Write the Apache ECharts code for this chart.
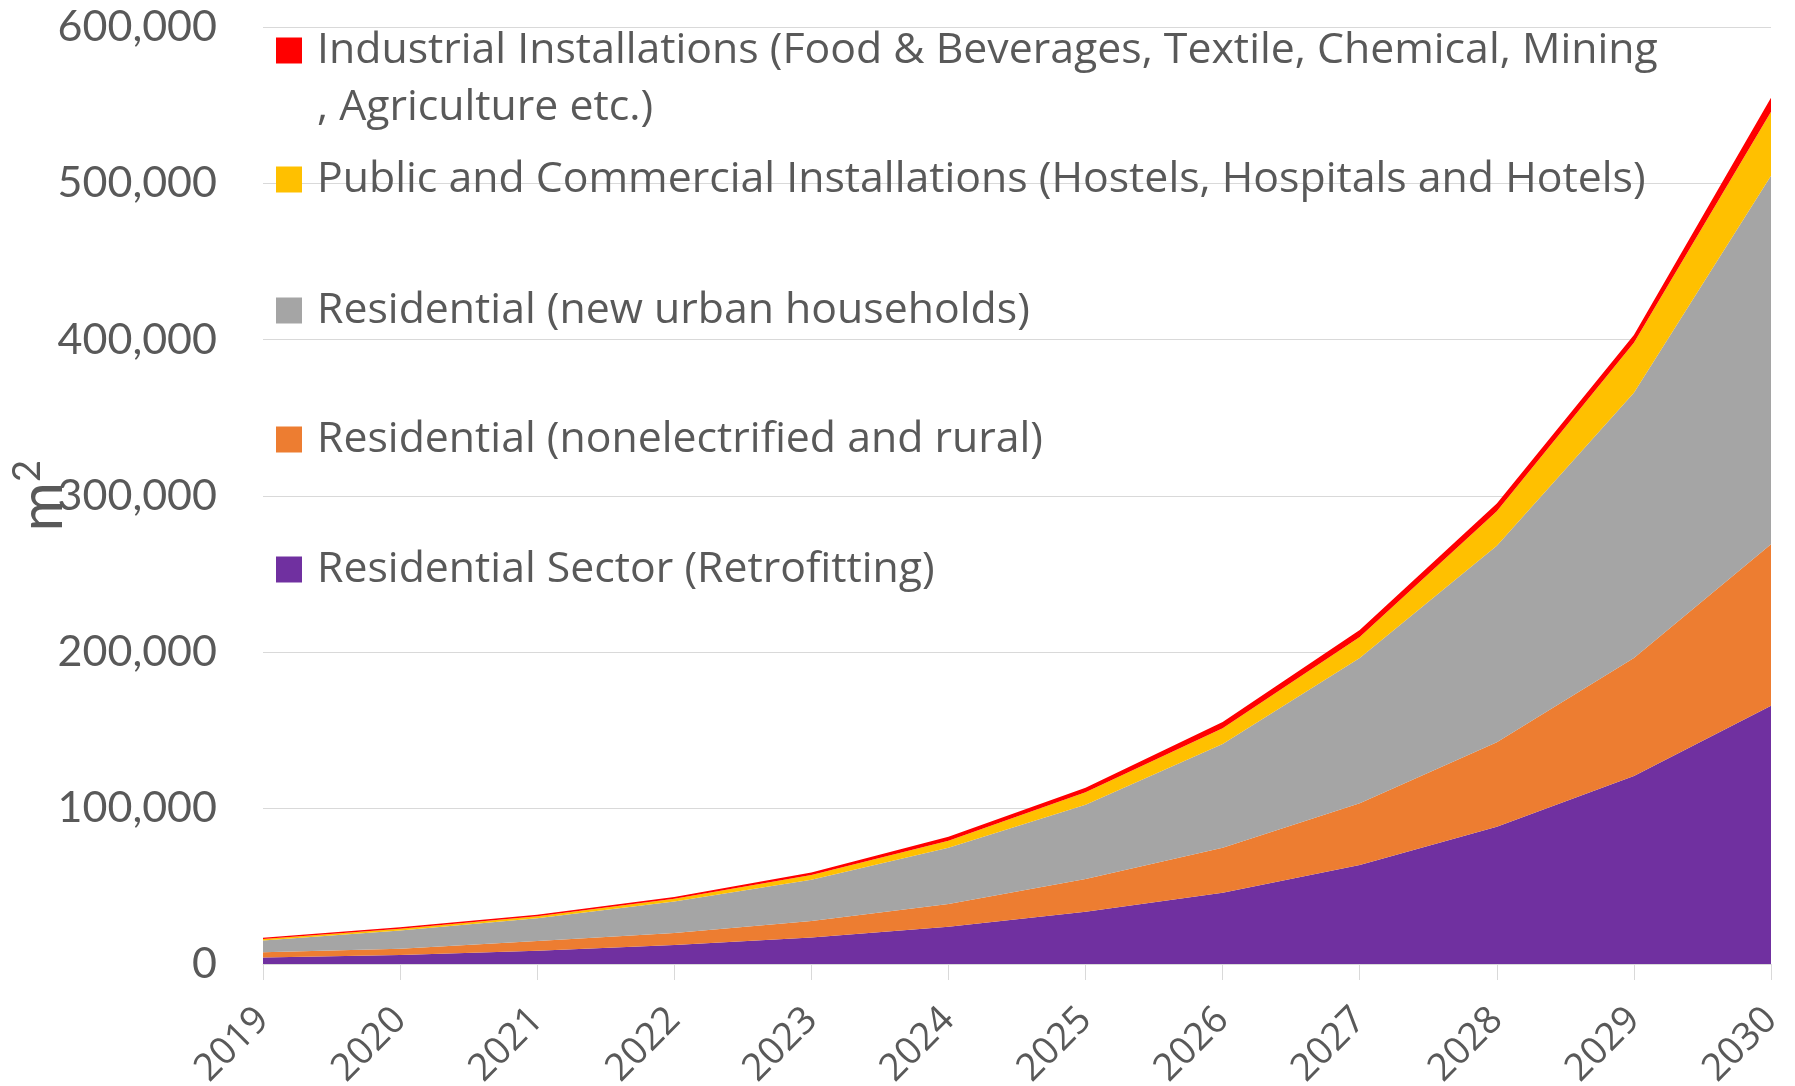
<!DOCTYPE html>
<html>
<head>
<meta charset="utf-8">
<script src="https://cdn.jsdelivr.net/npm/echarts@6/dist/echarts.min.js"></script>
<style>
html,body{margin:0;padding:0;background:#fff;}
#c{width:1795px;height:1086px;}
</style>
</head>
<body>
<div id="c"></div>
<script>
const years = ['2019','2020','2021','2022','2023','2024','2025','2026','2027','2028','2029','2030'];
const retrofitting = [4100, 5800, 8500, 12200, 17000, 23800, 33500, 45600, 63400, 88000, 120500, 165500];
const nonelectrified = [3400, 4000, 6200, 7700, 10500, 14700, 21000, 28900, 39600, 54000, 75500, 103500];
const newUrban = [7500, 11600, 14600, 20100, 26500, 36000, 47500, 66500, 93000, 126000, 170000, 236000];
const publicCommercial = [1000, 1200, 1300, 1800, 3000, 4500, 8000, 10000, 13500, 22000, 32000, 41000];
const industrial = [800, 900, 1000, 1200, 1700, 2500, 3000, 4000, 4500, 5000, 5000, 9000];

const names = {
  ind: 'Industrial Installations (Food & Beverages, Textile, Chemical, Mining',
  ind2: ', Agriculture etc.)',
  pub: 'Public and Commercial Installations (Hostels, Hospitals and Hotels)',
  urb: 'Residential (new urban households)',
  non: 'Residential (nonelectrified and rural)',
  ret: 'Residential Sector (Retrofitting)'
};
const colors = {ind:'#FF0000', pub:'#FFC000', urb:'#A5A5A5', non:'#ED7D31', ret:'#7030A0'};

const FONT = 'Lato, "Open Sans", sans-serif';
const LFONT = '"Open Sans", Lato, sans-serif';
const TXT = '#595959';
const LSIZE = 42.8;

function areaSeries(name, data, color) {
  return {
    name: name, type: 'line', stack: 'total', data: data,
    symbol: 'none', showSymbol: false,
    lineStyle: {width: 0, color: color},
    itemStyle: {color: color},
    areaStyle: {color: color, opacity: 1},
    emphasis: {disabled: true}
  };
}

function legendItem(name, top) {
  return {
    data: [name], left: 276, top: top, orient: 'vertical',
    icon: 'rect', itemWidth: 26, itemHeight: 26, itemGap: 0, padding: 0,
    selectedMode: false,
    textStyle: {fontFamily: LFONT, fontSize: LSIZE, color: TXT, lineHeight: 40, padding: [0,0,0,10]}
  };
}

const chart = echarts.init(document.getElementById('c'), null, {renderer: 'canvas'});
chart.setOption({
  animation: false,
  backgroundColor: '#fff',
  grid: {left: 263, right: 24, top: 27.5, bottom: 122, containLabel: false, outerBoundsMode: 'none'},
  legend: [
    legendItem(names.ind, 29),
    legendItem(names.pub, 158),
    legendItem(names.urb, 289),
    legendItem(names.non, 418),
    legendItem(names.ret, 548)
  ],
  graphic: [{
    type: 'text', x: 317, y: 108,
    style: {text: names.ind2, font: LSIZE + 'px ' + LFONT, fill: TXT, verticalAlign: 'middle'}
  }],
  xAxis: {
    type: 'category', data: years, boundaryGap: false,
    axisLine: {show: true, lineStyle: {color: '#d9d9d9', width: 1}},
    axisTick: {show: true, length: 16, lineStyle: {color: '#d9d9d9'}},
    axisLabel: {rotate: 45, fontFamily: LFONT, fontSize: 38, color: TXT, margin: 50, interval: 0},
    splitLine: {show: false}
  },
  yAxis: {
    type: 'value', min: 0, max: 600000, interval: 100000,
    name: '{m|m}{s|2}', nameLocation: 'middle', nameRotate: 90, nameGap: 190,
    nameMoveOverlap: false,
    nameTextStyle: {fontFamily: FONT, color: TXT,
      rich: {
        m: {fontFamily: FONT, fontSize: 60, color: TXT, lineHeight: 64, verticalAlign: 'bottom'},
        s: {fontFamily: FONT, fontSize: 38, color: TXT, lineHeight: 38, verticalAlign: 'top'}
      }},
    axisLine: {show: false}, axisTick: {show: false},
    axisLabel: {fontFamily: FONT, fontSize: 43, color: TXT, margin: 46,
      formatter: v => v.toLocaleString('en-US')},
    splitLine: {show: true, lineStyle: {color: '#d9d9d9', width: 1}}
  },
  series: [
    areaSeries(names.ret, retrofitting, colors.ret),
    areaSeries(names.non, nonelectrified, colors.non),
    areaSeries(names.urb, newUrban, colors.urb),
    areaSeries(names.pub, publicCommercial, colors.pub),
    areaSeries(names.ind, industrial, colors.ind)
  ]
});
</script>
</body>
</html>
